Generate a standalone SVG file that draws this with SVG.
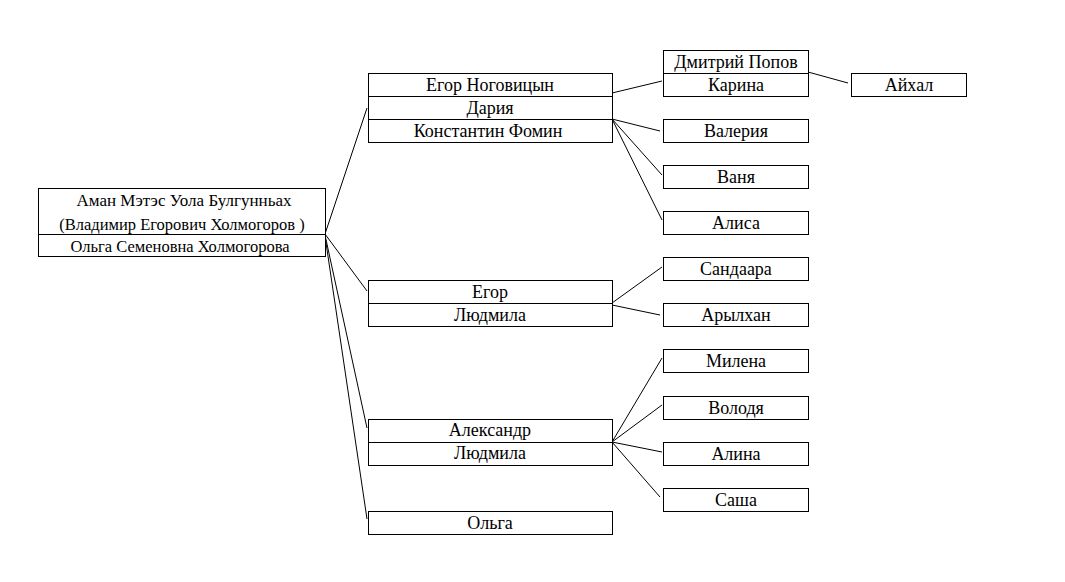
<svg xmlns="http://www.w3.org/2000/svg" width="1065" height="582" viewBox="0 0 1065 582">
<style>
rect{fill:#fff;stroke:#000;stroke-width:1}
.d{stroke:#000;stroke-width:1}
text{font-family:"Liberation Serif","Times New Roman",serif;font-size:18px;fill:#000;text-anchor:middle}
.r{font-size:16.5px}
.r1{font-size:17px}
#connectors line{stroke:#000;stroke-width:1}
</style>
<rect x="0" y="0" width="1065" height="582" style="stroke:none"/>
<g id="connectors">
<line x1="325" y1="234" x2="367" y2="108"/>
<line x1="325" y1="234" x2="367" y2="291"/>
<line x1="325" y1="235" x2="367" y2="428"/>
<line x1="325" y1="236" x2="367" y2="519"/>
<line x1="612" y1="93" x2="662" y2="81"/>
<line x1="808" y1="72" x2="848" y2="83"/>
<line x1="612" y1="119" x2="660" y2="131"/>
<line x1="612" y1="119" x2="662" y2="175"/>
<line x1="612" y1="119" x2="662" y2="220"/>
<line x1="612" y1="303" x2="662" y2="267"/>
<line x1="612" y1="305" x2="660" y2="315"/>
<line x1="612" y1="442" x2="662" y2="358"/>
<line x1="612" y1="442" x2="662" y2="405"/>
<line x1="612" y1="442" x2="662" y2="452"/>
<line x1="612" y1="442" x2="660" y2="497"/>
</g>
<g id="root">
<rect x="38.5" y="188.5" width="287" height="68"/>
<line class="d" x1="38.5" y1="234.5" x2="325.5" y2="234.5"/>
<text class="r1" x="184" y="206">Аман Мэтэс Уола Булгунньах</text>
<text class="r" x="182" y="230">(Владимир Егорович Холмогоров )</text>
<text class="r" x="180" y="252">Ольга Семеновна Холмогорова</text>
</g>
<g id="egor-nogovitsyn">
<rect x="368.5" y="73.5" width="244" height="69"/>
<line class="d" x1="368.5" y1="96.5" x2="612.5" y2="96.5"/>
<line class="d" x1="368.5" y1="119.5" x2="612.5" y2="119.5"/>
<text x="490" y="91">Егор Ноговицын</text>
<text x="490" y="114">Дария</text>
<text x="488" y="137">Константин Фомин</text>
</g>
<g id="karina">
<rect x="663.5" y="50.5" width="145" height="46"/>
<line class="d" x1="663.5" y1="73.5" x2="808.5" y2="73.5"/>
<text x="736" y="68">Дмитрий Попов</text>
<text x="736" y="91">Карина</text>
</g>
<g id="aikhal">
<rect x="851.5" y="73.5" width="115" height="23"/>
<text x="909" y="91">Айхал</text>
</g>
<g id="valeria">
<rect x="663.5" y="119.5" width="145" height="23"/>
<text x="736" y="137">Валерия</text>
</g>
<g id="vanya">
<rect x="663.5" y="165.5" width="145" height="23"/>
<text x="736" y="183">Ваня</text>
</g>
<g id="alisa">
<rect x="663.5" y="211.5" width="145" height="23"/>
<text x="736" y="229">Алиса</text>
</g>
<g id="egor">
<rect x="368.5" y="280.5" width="244" height="46"/>
<line class="d" x1="368.5" y1="303.5" x2="612.5" y2="303.5"/>
<text x="490" y="298">Егор</text>
<text x="490" y="321">Людмила</text>
</g>
<g id="sandaara">
<rect x="663.5" y="257.5" width="145" height="23"/>
<text x="736" y="275">Сандаара</text>
</g>
<g id="arylkhan">
<rect x="663.5" y="303.5" width="145" height="23"/>
<text x="736" y="321">Арылхан</text>
</g>
<g id="aleksandr">
<rect x="368.5" y="419.5" width="244" height="46"/>
<line class="d" x1="368.5" y1="442.5" x2="612.5" y2="442.5"/>
<text x="490" y="436">Александр</text>
<text x="490" y="459">Людмила</text>
</g>
<g id="milena">
<rect x="663.5" y="349.5" width="145" height="23"/>
<text x="736" y="367">Милена</text>
</g>
<g id="volodya">
<rect x="663.5" y="396.5" width="145" height="23"/>
<text x="736" y="414">Володя</text>
</g>
<g id="alina">
<rect x="663.5" y="442.5" width="145" height="23"/>
<text x="736" y="460">Алина</text>
</g>
<g id="sasha">
<rect x="663.5" y="488.5" width="145" height="23"/>
<text x="736" y="506">Саша</text>
</g>
<g id="olga">
<rect x="368.5" y="511.5" width="244" height="23"/>
<text x="490" y="529">Ольга</text>
</g>
</svg>
